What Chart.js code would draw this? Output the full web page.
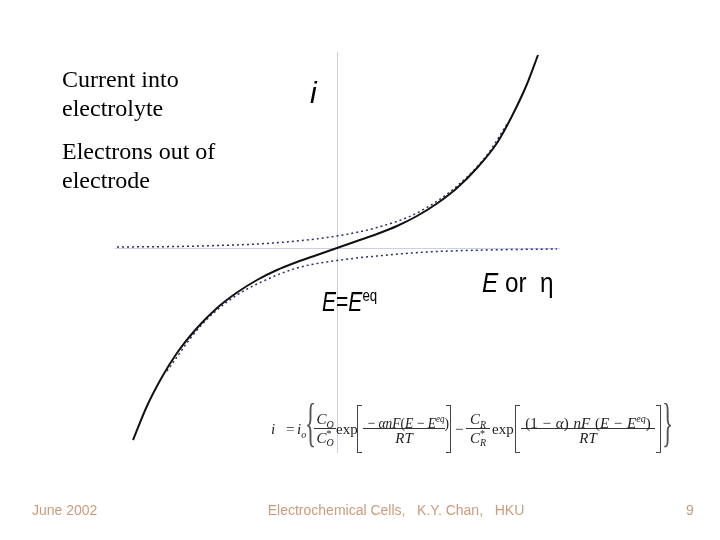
<!DOCTYPE html>
<html>
<head>
<meta charset="utf-8">
<script src="https://cdn.jsdelivr.net/npm/chart.js@4"></script>
<style>
  body { margin: 0; background: #fff; }
  #wrap { position: relative; width: 720px; height: 540px; overflow: hidden; }
  #chart { position: absolute; left: 0; top: 0; }
  .lbl { position: absolute; white-space: nowrap; color: #000; }
  .serif { font-family: "Liberation Serif", "Times New Roman", serif; }
  .sans { font-family: "Liberation Sans", Arial, sans-serif; }
  .foot { font-family: "Liberation Sans", Arial, sans-serif; font-size: 14px; line-height: 14px; color: #c99c7c; position: absolute; top: 503px; }
  .eq { position: absolute; font-family: "Liberation Serif", "Times New Roman", serif; font-size: 15px; color: #222; white-space: nowrap; }
  .frac { position: absolute; top: 410px; text-align: center; }
  .frac .n { line-height: 18px; height: 18px; border-bottom: 1px solid #333; }
  .frac .d { line-height: 18px; height: 18px; }
  .brk { position: absolute; top: 405px; height: 46px; width: 4px; border: 1.5px solid #444; }
  .brk.l { border-right: none; }
  .brk.r { border-left: none; }
  .ss { display: inline-flex; flex-direction: column; font-size: 10px; line-height: 9px; vertical-align: 6px; text-align: left; }
  sup.s { font-size: 10px; }
  .sq { display: inline-block; transform: scaleX(0.9); }
</style>
</head>
<body>
<div id="wrap">
  <canvas id="chart" width="720" height="540"></canvas>

  <div class="lbl serif" style="left:62px; top:65px; font-size:24px; line-height:29px;">Current into<br>electrolyte</div>
  <div class="lbl serif" style="left:62px; top:137px; font-size:24px; line-height:29px;">Electrons out of<br>electrode</div>

  <div class="lbl sans" style="left:310px; top:78px; font-size:30px; line-height:30px; font-style:italic;">i</div>
  <div class="lbl sans" style="left:322px; top:289px; font-size:27px; line-height:27px; transform:scaleX(0.78); transform-origin:left top;"><i>E</i>=<i>E</i><span style="font-size:17px; position:relative; top:-10px;">eq</span></div>
  <div class="lbl sans" style="left:482px; top:270px; font-size:27px; line-height:27px; transform:scaleX(0.9); transform-origin:left top;"><i>E</i> or&nbsp; η</div>

  <!-- equation -->
  <div class="eq" style="left:271px; top:420px; line-height:18px;"><i>i</i></div>
  <div class="eq" style="left:286px; top:420px; line-height:18px;">=</div>
  <div class="eq" style="left:297px; top:420px; line-height:18px;"><i>i<sub style="font-size:10px;">o</sub></i></div>
  <div class="eq" style="left:305px; top:396px; font-size:58px; line-height:58px; transform:scaleX(0.4) scaleY(0.92); transform-origin:left top; color:#555;">{</div>
  <div class="eq frac" style="left:314px; width:22px;"><div class="n"><i>C<sub style="font-size:10px;">O</sub></i></div><div class="d"><i>C</i><span class="ss"><span>*</span><i>O</i></span></div></div>
  <div class="eq" style="left:336px; top:420px; line-height:18px;">exp</div>
  <div class="brk l" style="left:357px;"></div>
  <div class="eq frac" style="left:363px; width:82px;"><div class="n"><span class="sq">− <i>αnF</i>(<i>E</i> − <i>E</i><sup class="s"><i>eq</i></sup>)</span></div><div class="d"><i>RT</i></div></div>
  <div class="brk r" style="left:446px;"></div>
  <div class="eq" style="left:455px; top:420px; line-height:18px;">−</div>
  <div class="eq frac" style="left:466px; width:24px;"><div class="n"><i>C<sub style="font-size:10px;">R</sub></i></div><div class="d"><i>C</i><span class="ss"><span>*</span><i>R</i></span></div></div>
  <div class="eq" style="left:492px; top:420px; line-height:18px;">exp</div>
  <div class="brk l" style="left:515px;"></div>
  <div class="eq frac" style="left:521px; width:134px;"><div class="n" style="word-spacing:1px;">(1 − <i>α</i>) <i>nF</i> (<i>E</i> − <i>E</i><sup class="s"><i>eq</i></sup>)</div><div class="d"><i>RT</i></div></div>
  <div class="brk r" style="left:656px;"></div>
  <div class="eq" style="left:662px; top:396px; font-size:58px; line-height:58px; transform:scaleX(0.4) scaleY(0.92); transform-origin:left top; color:#555;">}</div>

  <div class="foot" style="left:32px;">June 2002</div>
  <div class="foot" style="left:396px; transform:translateX(-50%); white-space:pre;">Electrochemical Cells,   K.Y. Chan,   HKU</div>
  <div class="foot" style="left:686px;">9</div>
</div>

<script>
// total current (solid line): E - Eeq vs i
const solidE = [-2.04, -1.9, -1.75, -1.6, -1.4, -1.2, -1.0, -0.8, -0.6, -0.4, -0.2, 0, 0.2, 0.4, 0.6, 0.8, 1.0, 1.2, 1.4, 1.6, 1.75, 1.9, 2.01];
const solidI = [-1.92, -1.58, -1.29, -1.05, -0.80, -0.60, -0.445, -0.32, -0.22, -0.14, -0.07, 0, 0.07, 0.14, 0.22, 0.32, 0.445, 0.60, 0.80, 1.05, 1.32, 1.64, 1.93];

// anodic branch (upper dotted)
const anodE = [-2.2, -1.6, -1.2, -0.8, -0.4, 0, 0.4, 0.8, 1.2, 1.5, 1.7];
const anodI = [0.01, 0.015, 0.025, 0.04, 0.07, 0.12, 0.205, 0.35, 0.62, 0.93, 1.24];

// cathodic branch (lower dotted)
const cathE = [-1.7, -1.4, -1.2, -1.0, -0.8, -0.4, 0, 0.4, 0.9, 1.5, 2.2];
const cathI = [-1.23, -0.82, -0.62, -0.47, -0.36, -0.20, -0.125, -0.08, -0.04, -0.02, -0.01];

const toPts = (xs, ys) => xs.map((x, k) => ({ x: x, y: ys[k] }));

// light crosshair through E = Eeq, i = 0
const zeroAxes = {
    id: 'zeroAxes',
    beforeDatasetsDraw(chart) {
        const { ctx, chartArea, scales } = chart;
        const x0 = Math.round(scales.x.getPixelForValue(0)) + 0.5;
        const y0 = Math.round(scales.y.getPixelForValue(0)) + 0.5;
        ctx.save();
        ctx.strokeStyle = '#cdd0e2';
        ctx.lineWidth = 1;
        ctx.beginPath();
        ctx.moveTo(x0, chartArea.top);
        ctx.lineTo(x0, chartArea.bottom);
        ctx.moveTo(chartArea.left, y0);
        ctx.lineTo(chartArea.right, y0);
        ctx.stroke();
        ctx.restore();
    }
};

new Chart(document.getElementById('chart'), {
    type: 'line',
    data: {
        datasets: [
            {
                label: 'i',
                data: toPts(solidE, solidI),
                borderColor: '#111111',
                borderWidth: 2,
                pointRadius: 0,
                cubicInterpolationMode: 'monotone'
            },
            {
                label: 'anodic',
                data: toPts(anodE, anodI),
                borderColor: '#2b2d6e',
                borderWidth: 1.5,
                borderDash: [2, 3],
                pointRadius: 0,
                cubicInterpolationMode: 'monotone'
            },
            {
                label: 'cathodic',
                data: toPts(cathE, cathI),
                borderColor: '#2b2d6e',
                borderWidth: 1.5,
                borderDash: [2, 3],
                pointRadius: 0,
                cubicInterpolationMode: 'monotone'
            }
        ]
    },
    options: {
        responsive: false,
        animation: false,
        devicePixelRatio: 1,
        layout: { padding: { left: 115, right: 160, top: 52, bottom: 87 } },
        plugins: { legend: { display: false }, tooltip: { enabled: false } },
        scales: {
            x: { type: 'linear', min: -2.22, max: 2.23, display: false },
            y: { type: 'linear', min: -2.05, max: 1.96, display: false }
        },
        elements: { line: { fill: false } },
        clip: false
    },
    plugins: [zeroAxes]
});
</script>
</body>
</html>
